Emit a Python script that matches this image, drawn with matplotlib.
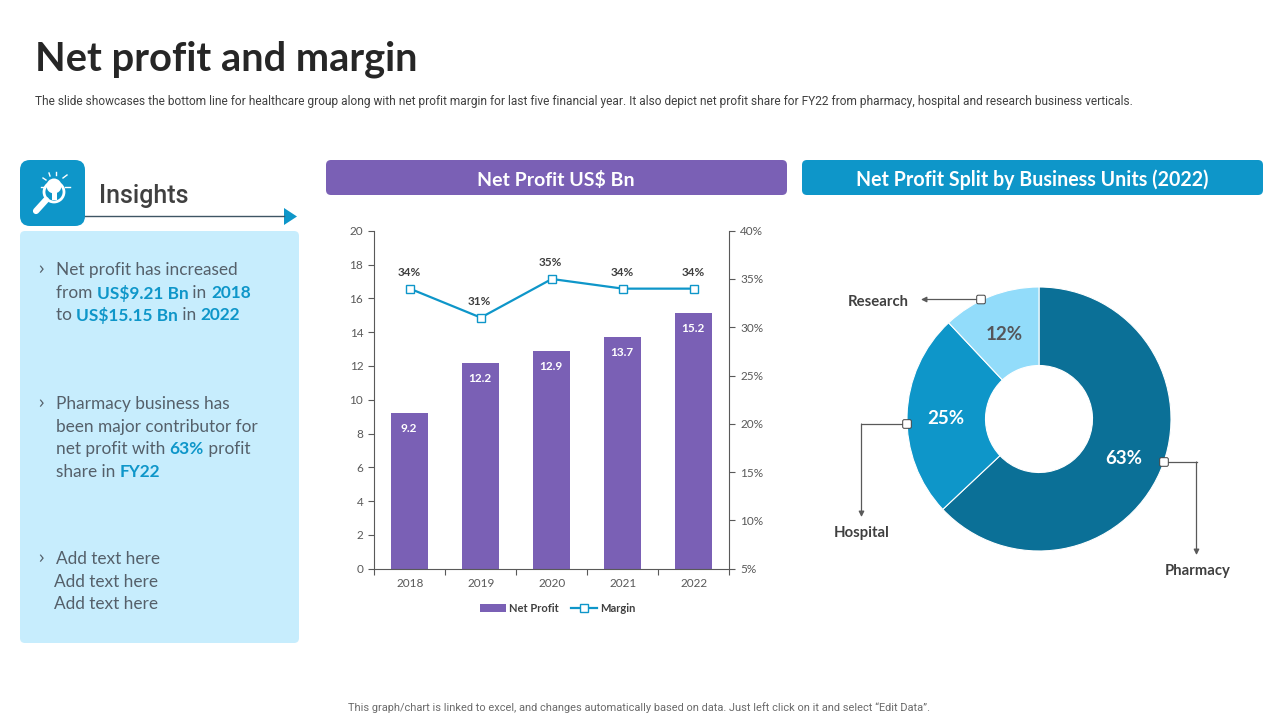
import matplotlib
matplotlib.use("Agg")
import matplotlib.pyplot as plt
from matplotlib.patches import FancyBboxPatch, Polygon, Circle, Rectangle

plt.rcParams['font.family'] = ['Lato', 'DejaVu Sans']

# data
years = ['2018', '2019', '2020', '2021', '2022']
net_profit = [9.21, 12.2, 12.9, 13.7, 15.15]
profit_labels = ['9.2', '12.2', '12.9', '13.7', '15.2']
margin = [34, 31, 35, 34, 34]
units = ['Pharmacy', 'Hospital', 'Research']
unit_share = [63, 25, 12]
unit_colors = ['#0B7097', '#0E96C9', '#92DCFA']
unit_text_colors = ['white', 'white', '#55565A']

PURPLE = '#7A60B5'
BLUE = '#0E96C9'
GREY = '#595959'
DARK = '#404040'
BODY = '#55606A'

fig = plt.figure(figsize=(12.8, 7.2), dpi=100)
bg = fig.add_axes([0, 0, 1, 1])
bg.set_xlim(0, 1280)
bg.set_ylim(720, 0)
bg.axis('off')


def round_box(x, y, w, h, r, color):
    bg.add_patch(FancyBboxPatch((x + r, y + r), w - 2 * r, h - 2 * r,
                                boxstyle=f'round,pad={r},rounding_size={r}',
                                fc=color, ec='none'))


# header
bg.text(35, 59, 'Net profit and margin', fontsize=28.7, fontweight='bold', family='Lato',
        color='#262626', va='center')
bg.text(35, 101, 'The slide showcases the bottom line for healthcare group along with net profit margin '
        'for last five financial year. It also depict net profit share for FY22 from pharmacy, hospital '
        'and research business verticals.', fontsize=8.6, color='#404040', va='center', family='Roboto')
bg.text(639, 708, 'This graph/chart is linked to excel, and changes automatically based on data. '
        'Just left click on it and select “Edit Data”.', fontsize=7.9, color='#6B6B6B',
        ha='center', va='center', family='Roboto')

# section headers
round_box(326, 160, 461, 35, 5, PURPLE)
round_box(802, 160, 461, 35, 5, BLUE)
bg.text(556, 179.5, 'Net Profit US$ Bn', fontsize=14, fontweight='bold', family='Lato', color='white',
        ha='center', va='center')
bg.text(1032, 179.5, 'Net Profit Split by Business Units (2022)', fontsize=14.1, fontweight='bold',
        family='Lato', color='white', ha='center', va='center')

# insights panel
round_box(20, 231, 279, 412, 5, '#C7EDFD')
round_box(20, 160, 65, 66, 10, BLUE)
bg.text(99, 195.5, 'Insights', fontsize=18, fontweight='medium', family='Roboto', color=DARK, va='center')
bg.plot([85, 284], [216, 216], color='#3F5564', lw=1)
bg.add_patch(Polygon([[284, 208], [284, 225], [297, 216.5]], fc=BLUE, ec='none'))

# icon: bulb under a magnifier
bg.add_patch(Circle((54, 192), 10, fc='none', ec='white', lw=2))
bg.add_patch(Circle((54, 186), 7.5, fc='white', ec='none'))
bg.add_patch(Rectangle((51.5, 192), 5, 8, fc='white', ec='none'))
bg.plot([46, 36], [200, 211], color='white', lw=4.5, solid_capstyle='round')
for x0, y0, x1, y1 in [(41, 187, 45, 187), (43, 178, 46, 180), (49, 173, 50, 176), (56, 172, 56, 175),
                       (63, 178, 67, 175), (65, 187, 70, 187)]:
    bg.plot([x0, x1], [y0, y1], color='white', lw=1)

renderer = fig.canvas.get_renderer()


def rich_line(x, y, parts, size=12.4):
    # lay out coloured runs one after another
    for txt, is_bold in parts:
        t = bg.text(x, y, txt, fontsize=size, va='center', family='Lato',
                    color=BLUE if is_bold else BODY, fontweight='bold' if is_bold else 'normal')
        x += t.get_window_extent(renderer).width


def bullet(y):
    bg.text(38, y, '›', fontsize=13, color=BODY, va='center', family='Open Sans')


bullet(269)
rich_line(56, 270, [('Net profit has increased', False)])
rich_line(56, 293, [('from ', False), ('US$9.21 Bn', True), (' in ', False), ('2018', True)])
rich_line(56, 315, [('to ', False), ('US$15.15 Bn', True), (' in ', False), ('2022', True)])
bullet(403)
rich_line(56, 404, [('Pharmacy business has', False)])
rich_line(56, 427, [('been major contributor for', False)])
rich_line(56, 449, [('net profit with ', False), ('63%', True), (' profit', False)])
rich_line(56, 472, [('share in ', False), ('FY22', True)])
bullet(558)
rich_line(56, 559, [('Add text here', False)])
rich_line(54, 582, [('Add text here', False)])
rich_line(54, 604, [('Add text here', False)])

# combo chart
ax = fig.add_axes([374.3 / 1280, 1 - 568.7 / 720, 355 / 1280, 338 / 720])
ax.patch.set_alpha(0)
xs = list(range(len(years)))
bars = ax.bar(xs, net_profit, width=0.52, color=PURPLE, label='Net Profit')
ax.set_xlim(-0.5, 4.5)
ax.set_ylim(0, 20)
ax.set_yticks(range(0, 21, 2))
ax.set_xticks([x - 0.5 for x in range(6)], minor=False)
ax.set_xticklabels([])
ax.set_xticks(xs, minor=True)
ax.set_xticklabels(years, minor=True)
ax.tick_params(axis='x', which='major', length=4, direction='out', color=GREY, width=0.8)
ax.tick_params(axis='x', which='minor', length=0, labelsize=8.5, labelcolor=GREY, pad=7)
ax.tick_params(axis='y', length=4, direction='out', color=GREY, width=0.8, labelsize=8.5,
               labelcolor=GREY, pad=4)
for side in ['top', 'right']:
    ax.spines[side].set_visible(False)
for side in ['left', 'bottom']:
    ax.spines[side].set_color(GREY)
    ax.spines[side].set_linewidth(0.8)
for x, v, lab in zip(xs, net_profit, profit_labels):
    ax.annotate(lab, (x, v), xytext=(-1, -15.5), textcoords='offset pixels', ha='center', va='center',
                color='white', fontsize=8.5, fontweight='bold')

ax2 = ax.twinx()
ax2.patch.set_alpha(0)
line, = ax2.plot(xs, margin, color=BLUE, lw=1.6, marker='s', ms=5.5, mfc='white', mec=BLUE, mew=1,
                 label='Margin')
ax2.set_ylim(5, 40)
ax2.set_yticks(range(5, 41, 5))
ax2.set_yticklabels([f'{v}%' for v in range(5, 41, 5)])
ax2.tick_params(axis='y', length=4, direction='out', color=GREY, width=0.8, labelsize=8.5,
                labelcolor=GREY, pad=4)
for side in ['top', 'left', 'bottom']:
    ax2.spines[side].set_visible(False)
ax2.spines['right'].set_color(GREY)
ax2.spines['right'].set_linewidth(0.8)
for x, v in zip(xs, margin):
    ax2.annotate(f'{v}%', (x, v), xytext=(-1, 16.5), textcoords='offset pixels', ha='center', va='center',
                 color='#404040', fontsize=8.5, fontweight='bold')

fig.legend([bars, line], ['Net Profit', 'Margin'], loc='center', bbox_to_anchor=(558 / 1280, 1 - 608.5 / 720),
           ncol=2, frameon=False, prop={'size': 8, 'weight': 'bold'}, labelcolor=DARK,
           handlelength=2.34, handletextpad=0.27, columnspacing=1.08, borderpad=0)

# donut
R = 132
cx, cy = 1039, 419
pie_ax = fig.add_axes([(cx - R) / 1280, 1 - (cy + R) / 720, 2 * R / 1280, 2 * R / 720])
pie_ax.pie(unit_share, colors=unit_colors, startangle=90, counterclock=False, radius=1,
           wedgeprops={'width': 1 - 53.5 / R, 'edgecolor': 'white', 'linewidth': 0.8})
pie_ax.set_xlim(-1, 1)
pie_ax.set_ylim(-1, 1)

# callouts and labels drawn above the donut
over = fig.add_axes([0, 0, 1, 1])
over.set_xlim(0, 1280)
over.set_ylim(720, 0)
over.axis('off')
for lab, pos, col in zip(unit_share, [(1124, 459), (946, 419), (1004, 335)], unit_text_colors):
    over.text(pos[0], pos[1], f'{lab}%', fontsize=13.5, fontweight='bold', color=col, ha='center',
              va='center', zorder=5)
for name, pos in zip(units, [(1198, 571.5), (862, 533.5), (878, 301.5)]):
    over.text(pos[0], pos[1], name, fontsize=10.7, fontweight='bold', color=DARK, ha='center', va='center')


def callout(points, start):
    over.plot([p[0] for p in points[:-1]], [p[1] for p in points[:-1]], color=GREY, lw=0.9, zorder=3)
    over.annotate('', xy=points[-1], xytext=points[-2],
                  arrowprops=dict(arrowstyle='-|>', color=GREY, lw=0.9, mutation_scale=8,
                                  shrinkA=0, shrinkB=0))
    over.add_patch(FancyBboxPatch((start[0] - 3.5, start[1] - 3.5), 7, 7, boxstyle='round,pad=0.8,rounding_size=1.5',
                                  fc='white', ec=DARK, lw=0.7, zorder=4))


callout([(1164, 462), (1196.5, 462), (1196.5, 555)], (1164, 462))
callout([(907, 424), (861.5, 424), (861.5, 517)], (907, 424))
callout([(981, 299.5), (921, 299.5)], (981, 299.5))

fig.savefig('out.png', dpi=100)
